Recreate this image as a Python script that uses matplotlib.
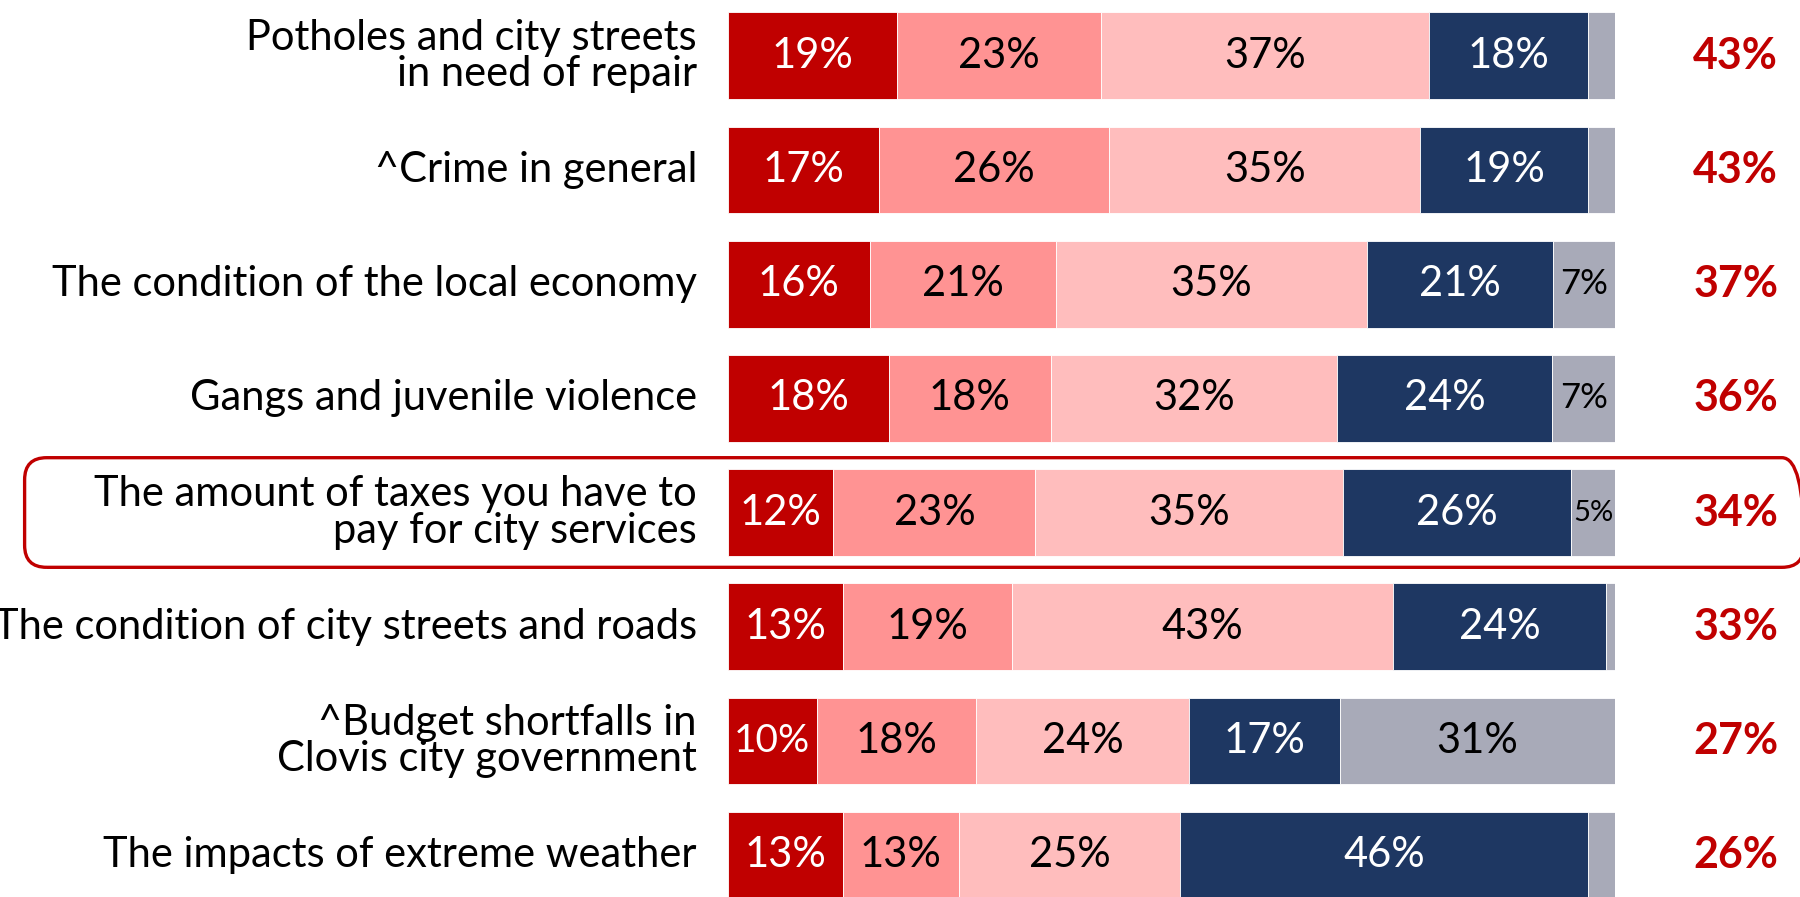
import matplotlib.pyplot as plt
from matplotlib.patches import FancyBboxPatch
from matplotlib.transforms import IdentityTransform

plt.rcParams['font.family'] = ['Lato', 'DejaVu Sans']

issues = [
    "Potholes and city streets\nin need of repair",
    "^Crime in general",
    "The condition of the local economy",
    "Gangs and juvenile violence",
    "The amount of taxes you have to\npay for city services",
    "The condition of city streets and roads",
    "^Budget shortfalls in\nClovis city government",
    "The impacts of extreme weather",
]
very_serious = [19, 17, 16, 18, 12, 13, 10, 13]
serious = [23, 26, 21, 18, 23, 19, 18, 13]
somewhat = [37, 35, 35, 32, 35, 43, 24, 25]
not_serious = [18, 19, 21, 24, 26, 24, 17, 46]
dont_know = [None, None, 7, 7, 5, None, 31, None]
total_serious = [43, 43, 37, 36, 34, 33, 27, 26]

colors = ['#C00000', '#FF9393', '#FFBDBD', '#1E3762', '#A8AAB8']
text_colors = ['white', 'black', 'black', 'white', 'black']

fig = plt.figure(figsize=(18, 8.97), dpi=100)
ax = fig.add_axes([728 / 1800, 0, 887 / 1800, 1])
ax.set_xlim(0, 100)
ax.set_ylim(7.367, -0.488)
ax.axis('off')

for i, name in enumerate(issues):
    vals = [very_serious[i], serious[i], somewhat[i], not_serious[i]]
    dk = dont_know[i]
    if dk is None:
        segs = vals + [100 - sum(vals)]
    else:
        segs = vals + [dk]
    tot = sum(segs)
    left = 0
    for j, v in enumerate(segs):
        w = v / tot * 100
        ax.barh(i, w, left=left, height=0.76, color=colors[j], edgecolor='white', linewidth=0.6)
        if j < 4 or dk is not None:
            fs = 30
            if j == 4 and v < 10:
                fs = 25 if v > 5 else 21
            if j == 0 and v >= 10 and w < 11:
                fs = 28
            ax.text(left + w / 2, i, f"{v}%", ha='center', va='center',
                    color=text_colors[j], fontsize=fs)
        left += w
    ax.text(-3.5, i, name, ha='right', va='center', fontsize=30,
            linespacing=0.95, color='black')
    ax.text(118.4, i, f"{total_serious[i]}%", ha='right', va='center',
            fontsize=31, fontweight='bold', color='#C00000')

# highlight box round the taxes row
fig.canvas.draw()
x0, y0 = ax.transData.transform((-79.3, 4.48))
x1, y1 = ax.transData.transform((121.3, 3.52))
box = FancyBboxPatch((x0, y0), x1 - x0, y1 - y0,
                     boxstyle="round,pad=0,rounding_size=22",
                     transform=IdentityTransform(), fill=False,
                     edgecolor='#C00000', linewidth=2.4)
fig.patches.append(box)

fig.savefig('out.png', dpi=100)
